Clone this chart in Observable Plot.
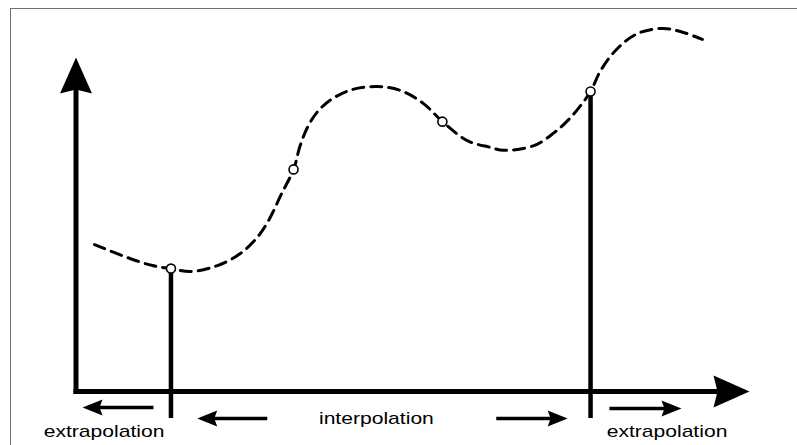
<!DOCTYPE html>
<html><head><meta charset="utf-8">
<script src="https://cdn.jsdelivr.net/npm/d3@7"></script>
<script src="https://cdn.jsdelivr.net/npm/@observablehq/plot@0.6"></script>
<style>html,body{margin:0;padding:0;background:#fff;} #chart svg{display:block;}</style>
</head><body><div id="chart"></div>
<script>
// ---- data (abstract units: axes span 0..100) ----
const curveX = [2.75, 7.65, 11.36, 14.1, 17.0, 21.0, 24.4, 26.9, 28.6, 30.4, 32.3, 33.3, 34.5, 36.0, 38.1, 41.0, 44.8, 48.2, 51.6, 54.4, 58.1, 61.5, 63.5, 68.1, 71.0, 73.0, 74.8, 76.4, 77.9, 80.4, 83.4, 87.2, 90.2, 93.0];
const curveY = [44.0, 40.1, 37.7, 36.8, 35.9, 37.7, 41.3, 46.1, 51.2, 58.7, 66.5, 73.7, 79.6, 84.1, 87.7, 90.4, 91.3, 90.1, 86.2, 80.8, 75.1, 73.1, 72.2, 73.7, 77.5, 81.1, 85.3, 89.8, 96.1, 102.7, 107.2, 108.7, 107.5, 105.4];
const knotX = [14.1, 32.3, 54.4, 76.4];
const knotY = [36.8, 66.5, 80.8, 89.8];
const boundaryX = [14.1, 76.4];
const boundaryTopY = [36.8, 89.8];
const boundaryBottomY = -8.1;
const axisMin = 0, axisMax = 100;
const arrowTailX = [11.5, 28.4, 62.4, 79.2];
const arrowTipX = [0.97, 18.0, 73.0, 89.9];
const arrowY = [-4.8, -8.1, -8.1, -5.1];
const labelText = ["extrapolation", "interpolation", "extrapolation"];
const labelX = [4.16, 44.6, 87.75];
const labelY = [-12.1, -8.2, -12.1];

// ---- derived tables ----
const curve = curveX.map((x, i) => ({x, y: curveY[i]}));
const knots = knotX.map((x, i) => ({x, y: knotY[i]}));
const bounds = boundaryX.map((x, i) => ({x, y1: boundaryTopY[i], y2: boundaryBottomY}));
const axes = [{x1: axisMin, y1: axisMin, x2: axisMin, y2: axisMax}, {x1: axisMin, y1: axisMin, x2: axisMax, y2: axisMin}];
const arrows = arrowTailX.map((t, i) => ({x1: t, x2: arrowTipX[i], y: arrowY[i]}));
const labels = labelText.map((t, i) => ({text: t, x: labelX[i], y: labelY[i]}));

// filled arrowhead symbol, tip at the anchor point
function head(dx, dy, len, half, notch) {
  return {draw(ctx) {
    const nx = -dy, ny = dx;
    ctx.moveTo(0, 0);
    ctx.lineTo(-len * dx + half * nx, -len * dy + half * ny);
    ctx.lineTo(-(len - notch) * dx, -(len - notch) * dy);
    ctx.lineTo(-len * dx - half * nx, -len * dy - half * ny);
    ctx.closePath();
  }};
}
const bigUp = head(0, -1, 36, 16, 4);
const bigRight = head(1, 0, 36, 16, 4);
const smallLeft = head(-1, 0, 20, 8, 3);
const smallRight = head(1, 0, 20, 8, 3);

const chart = Plot.plot({
  width: 797,
  height: 445,
  marginLeft: 10, marginTop: 8, marginRight: 0, marginBottom: 0,
  x: {domain: [0, 100], range: [75.5, 749], axis: null},
  y: {domain: [0, 100], range: [391, 57], axis: null},
  style: {fontFamily: "'Liberation Sans', Arial, sans-serif", background: "white", color: "black", overflow: "hidden"},
  marks: [
    Plot.frame({stroke: "#707070", strokeWidth: 1, insetRight: -20, insetBottom: -20}),
    Plot.arrow(axes, {x1: "x1", y1: "y1", x2: "x2", y2: "y2", headLength: 0, insetEnd: 22, stroke: "black", strokeWidth: 5, strokeLinecap: "square"}),
    Plot.dot([{x: axisMin, y: axisMax}], {x: "x", y: "y", symbol: bigUp, fill: "black", stroke: "none"}),
    Plot.dot([{x: axisMax, y: axisMin}], {x: "x", y: "y", symbol: bigRight, fill: "black", stroke: "none"}),
    Plot.ruleX(bounds, {x: "x", y1: "y1", y2: "y2", stroke: "black", strokeWidth: 4.5}),
    Plot.line(curve, {x: "x", y: "y", curve: "catmull-rom", stroke: "black", strokeWidth: 3, strokeDasharray: "11,7"}),
    Plot.dot(knots, {x: "x", y: "y", r: 4.5, fill: "white", stroke: "black", strokeWidth: 1.6}),
    Plot.arrow(arrows, {x1: "x1", y1: "y", x2: "x2", y2: "y", headLength: 0, insetEnd: 9, stroke: "black", strokeWidth: 3.5, strokeLinecap: "butt"}),
    Plot.dot(arrows.filter(d => d.x2 < d.x1), {x: "x2", y: "y", symbol: smallLeft, fill: "black", stroke: "none"}),
    Plot.dot(arrows.filter(d => d.x2 > d.x1), {x: "x2", y: "y", symbol: smallRight, fill: "black", stroke: "none"}),
    Plot.text(labels, {x: "x", y: "y", text: "text", fontSize: 17, fill: "black", textAnchor: "middle"})
  ]
});
chart.style.overflow = "hidden";
document.getElementById("chart").appendChild(chart);
chart.querySelectorAll("text").forEach(t => {
  const w = t.getComputedTextLength();
  t.setAttribute("textLength", (w * 1.24).toFixed(1));
  t.setAttribute("lengthAdjust", "spacingAndGlyphs");
});
</script>
</body></html>
